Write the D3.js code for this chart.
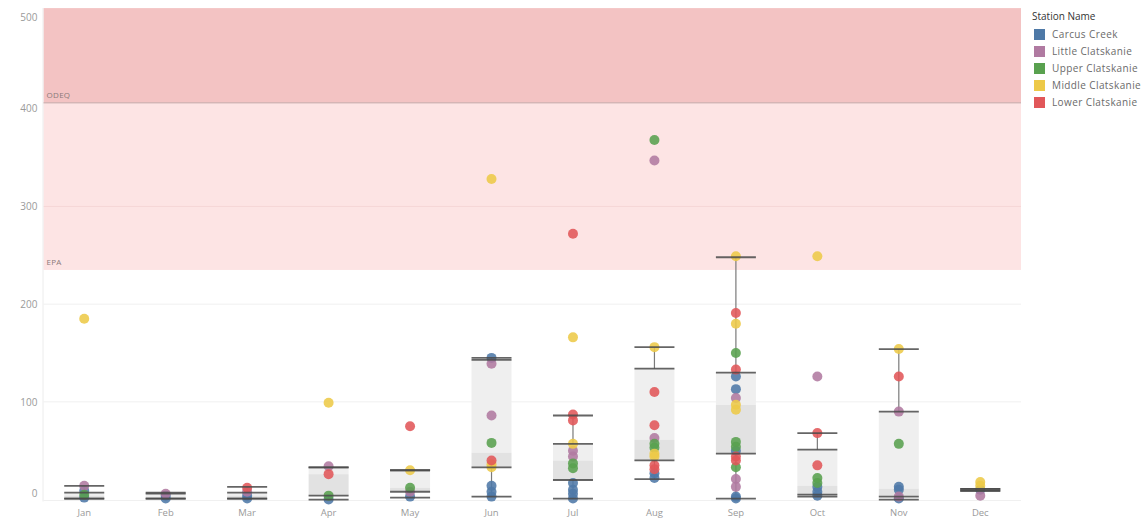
<!DOCTYPE html>
<html>
<head>
<meta charset="utf-8">
<script src="https://cdn.jsdelivr.net/npm/d3@7"></script>
<style>
  html, body { margin: 0; padding: 0; background: #fff; }
  svg { display: block; font-family: "Open Sans", "Noto Sans", sans-serif; }
</style>
</head>
<body>
<svg id="chart" width="1148" height="523"></svg>
<script>
// Monthly E. coli samples by station, with box plot per month
const months = ["Jan","Feb","Mar","Apr","May","Jun","Jul","Aug","Sep","Oct","Nov","Dec"];
const stations = ["Carcus Creek","Little Clatskanie","Upper Clatskanie","Middle Clatskanie","Lower Clatskanie"];
const stationColors = ["#4e79a7","#b07aa1","#59a14f","#edc948","#e15759"];

// [month, value] samples per station
const carcusCreek = [["Jan",9],["Jan",2],["Feb",4],["Feb",1],["Mar",4],["Mar",1],["Apr",0],["May",3],
  ["Jun",145],["Jun",14],["Jun",8],["Jun",3],["Jul",17],["Jul",10],["Jul",6],["Jul",1],["Aug",27],["Aug",22],
  ["Sep",126],["Sep",113],["Sep",50],["Sep",3],["Sep",1],["Oct",13],["Oct",8],["Oct",4],["Nov",13],["Nov",10],["Nov",1],["Dec",10]];
const littleClatskanie = [["Jan",14],["Feb",6],["Mar",8],["Apr",34],["May",8],["Jun",139],["Jun",86],["Jul",50],["Jul",44],
  ["Aug",347],["Aug",63],["Sep",104],["Sep",21],["Sep",13],["Oct",126],["Nov",90],["Nov",3],["Dec",4]];
const upperClatskanie = [["Jan",5],["Apr",4],["May",12],["Jun",58],["Jul",37],["Jul",32],["Aug",368],["Aug",57],["Aug",53],
  ["Sep",150],["Sep",59],["Sep",54],["Sep",33],["Oct",22],["Oct",17],["Nov",57]];
const middleClatskanie = [["Jan",185],["Apr",99],["May",30],["Jun",328],["Jun",36],["Jun",33],["Jul",166],["Jul",57],
  ["Aug",156],["Aug",47],["Aug",44],["Sep",249],["Sep",180],["Sep",97],["Sep",92],["Oct",249],["Nov",154],["Dec",18],["Dec",14]];
const lowerClatskanie = [["Mar",12],["Apr",26],["May",75],["Jun",40],["Jul",272],["Jul",87],["Jul",81],
  ["Aug",110],["Aug",76],["Aug",35],["Aug",31],["Sep",191],["Sep",133],["Sep",44],["Sep",40],["Oct",68],["Oct",35],["Nov",126]];

// Box plot statistics per month
const whiskerLow  = [1, 1, 1, 0, 2, 3, 1, 21, 1, 3, 0, 9];
const quartile1   = [1, 1, 1, 4, 8, 33, 20, 40, 47, 5, 3, 9];
const medians     = [4, 3, 4, 26, 12, 48, 40, 61, 97, 14, 11, 10];
const quartile3   = [7, 6, 7, 33, 30, 143, 57, 134, 130, 51, 90, 11];
const whiskerHigh = [14, 7, 13, 33, 30, 145, 86, 156, 248, 68, 154, 11];

// Reference thresholds
const thresholds = [{name: "EPA", value: 235}, {name: "ODEQ", value: 406}];
const yTicks = [0, 100, 200, 300, 400, 500];

const svg = d3.select("#chart");
const x = d3.scaleBand().domain(months).range([43.5, 1021]);
const y = d3.scaleLinear().domain([-2, 503]).range([501.5, 8.1]);
const [x0, x1] = x.range();
const [yb, yt] = y.range();

// threshold bands
const bandDefs = [
  {lo: thresholds[0].value, hi: thresholds[1].value, fill: "#fde4e4"},
  {lo: thresholds[1].value, hi: y.domain()[1], fill: "#f3c3c3"}
];
svg.append("g").selectAll("rect").data(bandDefs).join("rect")
  .attr("x", x0).attr("width", x1 - x0)
  .attr("y", d => y(d.hi)).attr("height", d => y(d.lo) - y(d.hi))
  .attr("fill", d => d.fill);

// gridlines
svg.append("g").selectAll("line").data(yTicks.filter(t => t > 0 && t < 400)).join("line")
  .attr("x1", x0).attr("x2", x1)
  .attr("y1", d => y(d)).attr("y2", d => y(d))
  .attr("stroke", d => d > thresholds[0].value ? "#f6d6d6" : "#f0f0f0").attr("stroke-width", 1);
svg.append("line").attr("x1", x0).attr("x2", x1).attr("y1", y(0) + 1).attr("y2", y(0) + 1)
  .attr("stroke", "#f0f0f0");
svg.append("line").attr("x1", x0 - 0.5).attr("x2", x0 - 0.5).attr("y1", yt).attr("y2", yb)
  .attr("stroke", "#ececec");

// ODEQ boundary line
svg.append("line").attr("x1", x0).attr("x2", x1)
  .attr("y1", y(thresholds[1].value)).attr("y2", y(thresholds[1].value))
  .attr("stroke", "#c4aaaa").attr("stroke-width", 1);

// threshold labels
svg.append("g").selectAll("text").data(thresholds).join("text")
  .attr("x", x0 + 3).attr("y", d => y(d.value) - 5)
  .attr("font-size", 8).attr("fill", "#8a7a7a").attr("letter-spacing", 0.3)
  .text(d => d.name);

// y axis
const yAxis = svg.append("g").attr("transform", `translate(${x0 - 6},0)`)
  .call(d3.axisLeft(y).tickValues(yTicks).tickSize(0).tickPadding(0));
yAxis.select(".domain").remove();
yAxis.selectAll("text").attr("font-size", 10).attr("fill", "#9a9a9a")
  .attr("font-family", "'Open Sans', sans-serif")
  .attr("dy", d => d === 0 ? "-0.3em" : d === 500 ? "0.95em" : "0.32em");

// x axis
const xAxis = svg.append("g").attr("transform", `translate(0,${yb + 6})`)
  .call(d3.axisBottom(x).tickSize(0).tickPadding(0));
xAxis.select(".domain").remove();
xAxis.selectAll("text").attr("font-size", 9.5).attr("fill", "#9a9a9a")
  .attr("font-family", "'Open Sans', sans-serif").attr("dy", "0.9em");

// boxes
const boxW = 40;
const boxes = months.map((m, i) => ({m, lo: whiskerLow[i], q1: quartile1[i], med: medians[i], q3: quartile3[i], hi: whiskerHigh[i]}));
const gBox = svg.append("g");
gBox.selectAll("rect.upper").data(boxes).join("rect").attr("class", "upper")
  .attr("x", d => x(d.m) + x.bandwidth() / 2 - boxW / 2).attr("width", boxW)
  .attr("y", d => y(d.q3)).attr("height", d => y(d.med) - y(d.q3))
  .attr("fill", "#efefef");
gBox.selectAll("rect.lower").data(boxes).join("rect").attr("class", "lower")
  .attr("x", d => x(d.m) + x.bandwidth() / 2 - boxW / 2).attr("width", boxW)
  .attr("y", d => y(d.med)).attr("height", d => y(d.q1) - y(d.med))
  .attr("fill", "#e2e2e2");

// whisker stems
gBox.selectAll("line.stemHi").data(boxes).join("line").attr("class", "stemHi")
  .attr("x1", d => x(d.m) + x.bandwidth() / 2).attr("x2", d => x(d.m) + x.bandwidth() / 2)
  .attr("y1", d => y(d.hi)).attr("y2", d => y(d.q3))
  .attr("stroke", "#7a7a7a").attr("stroke-width", 1.2);
gBox.selectAll("line.stemLo").data(boxes).join("line").attr("class", "stemLo")
  .attr("x1", d => x(d.m) + x.bandwidth() / 2).attr("x2", d => x(d.m) + x.bandwidth() / 2)
  .attr("y1", d => y(d.q1)).attr("y2", d => y(d.lo))
  .attr("stroke", "#7a7a7a").attr("stroke-width", 1.2);

// sample points
const stationSeries = [carcusCreek, littleClatskanie, upperClatskanie, middleClatskanie, lowerClatskanie];
const points = [];
stationSeries.forEach((series, si) => series.forEach(([m, v]) => points.push({m, v, si})));
svg.append("g").selectAll("circle").data(points).join("circle")
  .attr("cx", d => x(d.m) + x.bandwidth() / 2)
  .attr("cy", d => y(d.v))
  .attr("r", 5)
  .attr("fill", d => stationColors[d.si])
  .attr("fill-opacity", 0.88);

// whisker caps and hinge lines drawn over the points
const capLines = [];
boxes.forEach(b => {
  capLines.push({m: b.m, v: b.hi}, {m: b.m, v: b.q3}, {m: b.m, v: b.q1}, {m: b.m, v: b.lo});
});
svg.append("g").selectAll("line").data(capLines).join("line")
  .attr("x1", d => x(d.m) + x.bandwidth() / 2 - boxW / 2)
  .attr("x2", d => x(d.m) + x.bandwidth() / 2 + boxW / 2)
  .attr("y1", d => y(d.v)).attr("y2", d => y(d.v))
  .attr("stroke", "#4a4a4a").attr("stroke-opacity", 0.85).attr("stroke-width", 1.8);

// legend
const legend = svg.append("g").attr("transform", "translate(1032,0)");
legend.append("text").attr("x", 0).attr("y", 20)
  .attr("font-size", 10).attr("fill", "#333").text("Station Name");
const items = legend.selectAll("g.item").data(stations).join("g").attr("class", "item")
  .attr("transform", (d, i) => `translate(0,${29 + i * 17})`);
items.append("rect").attr("x", 2).attr("y", 0).attr("width", 11).attr("height", 11)
  .attr("fill", (d, i) => stationColors[i]);
items.append("text").attr("x", 20).attr("y", 9)
  .attr("font-size", 10).attr("letter-spacing", 0.4).attr("fill", "#6a6a6a").text(d => d);
</script>
</body>
</html>
